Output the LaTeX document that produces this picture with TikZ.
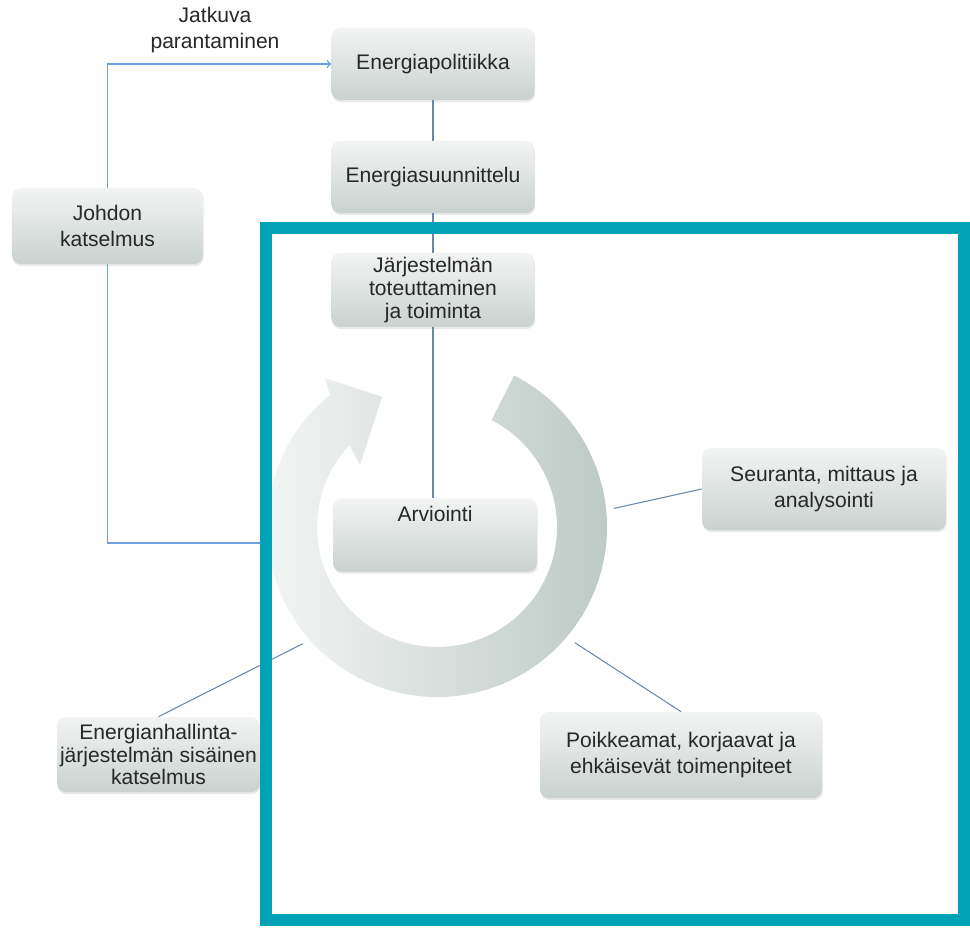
\documentclass[tikz,border=0pt]{standalone}
\usepackage{fontspec}
\setmainfont{Liberation Sans}
\usetikzlibrary{calc,shadows}
\definecolor{frameteal}{RGB}{0,163,182}
\definecolor{boxtop}{RGB}{242,244,243}
\definecolor{boxbot}{RGB}{201,210,207}
\definecolor{ringlight}{RGB}{243,245,245}
\definecolor{ringdark}{RGB}{186,199,195}
\definecolor{linkblue}{RGB}{105,135,170}
\definecolor{arrowblue}{RGB}{110,160,225}
\definecolor{textgray}{RGB}{40,40,40}
\newcommand{\bx}{\fontsize{12}{14.5}\selectfont}

\begin{document}
\begin{tikzpicture}[
  stage/.style={rounded corners=5pt, top color=boxtop, bottom color=boxbot,
    align=center, inner sep=0pt, text=textgray, font=\bx,
    drop shadow={shadow xshift=0.4pt, shadow yshift=-1.2pt, opacity=0.18}},
  conn/.style={draw=linkblue, line width=0.6pt},
  improve/.style={draw=arrowblue, line width=0.8pt}]
  \useasboundingbox (0,0) rectangle (19.4,-18.6);
  \coordinate (ringc) at (8.74,-10.54);
  \shade[left color=ringlight, right color=ringdark]
    ($(ringc)+(63:3.4)$) arc[start angle=63, end angle=-231, radius=3.4]
    -- (6.50,-7.56) -- (7.64,-7.94) -- (7.20,-9.30)
    -- ($(ringc)+(137:2.4)$) arc[start angle=137, end angle=423, radius=2.4] -- cycle;
  \coordinate (ringW) at (5.36,-10.86);
  \coordinate (ringE) at ($(ringc)+(6:3.56)$);
  \coordinate (ringSE) at ($(ringc)+(-40:3.6)$);
  \coordinate (ringSW) at ($(ringc)+(221:3.56)$);

  \node[stage, minimum width=4.06cm, minimum height=1.44cm] (pol) at (8.66,-1.28) {Energiapolitiikka};
  \node[stage, minimum width=4.06cm, minimum height=1.44cm] (suun) at (8.66,-3.54) {Energiasuunnittelu};
  \node[stage, minimum width=4.06cm, minimum height=1.48cm] (tot) at (8.66,-5.80)
    {J\"arjestelm\"an\\[-1.5pt]toteuttaminen\\[-1.5pt]ja toiminta};
  \node[stage, minimum width=4.08cm, text height=0.46cm, text depth=1.0cm] (arv) at (8.70,-10.70) {Arviointi};
  \node[stage, minimum width=3.82cm, minimum height=1.52cm] (joh) at (2.15,-4.52) {Johdon\\katselmus};
  \node[stage, minimum width=4.88cm, minimum height=1.64cm] (seu) at (16.48,-9.78) {Seuranta, mittaus ja\\analysointi};
  \node[stage, minimum width=5.64cm, minimum height=1.72cm] (poi) at (13.62,-15.10)
    {Poikkeamat, korjaavat ja\\ehk\"aisev\"at toimenpiteet};
  \node[stage, minimum width=4.06cm, minimum height=1.50cm] (ehs) at (3.17,-15.09)
    {Energianhallinta-\\[-1.5pt]j\"arjestelm\"an sis\"ainen\\[-1.5pt]katselmus};
  \node[font=\bx, text=textgray, align=center] (jp) at (4.30,-0.60) {Jatkuva\\parantaminen};

  \draw[improve,->] (joh.north) |- (pol.west);
  \draw[improve] (joh.south) |- (ringW);
  \draw[conn] (pol.south) -- (suun.north);
  \draw[conn] (suun.south) -- (tot.north);
  \draw[conn] (tot.south) -- (tot.south |- arv.north);
  \draw[conn] (ringE) -- (seu.west);
  \draw[conn] (ringSE) -- (poi.north);
  \draw[conn] (ringSW) -- (ehs.north);

  \draw[frameteal, line width=0.24cm] (5.32,-4.56) rectangle (19.28,-18.40);
\end{tikzpicture}
\end{document}
